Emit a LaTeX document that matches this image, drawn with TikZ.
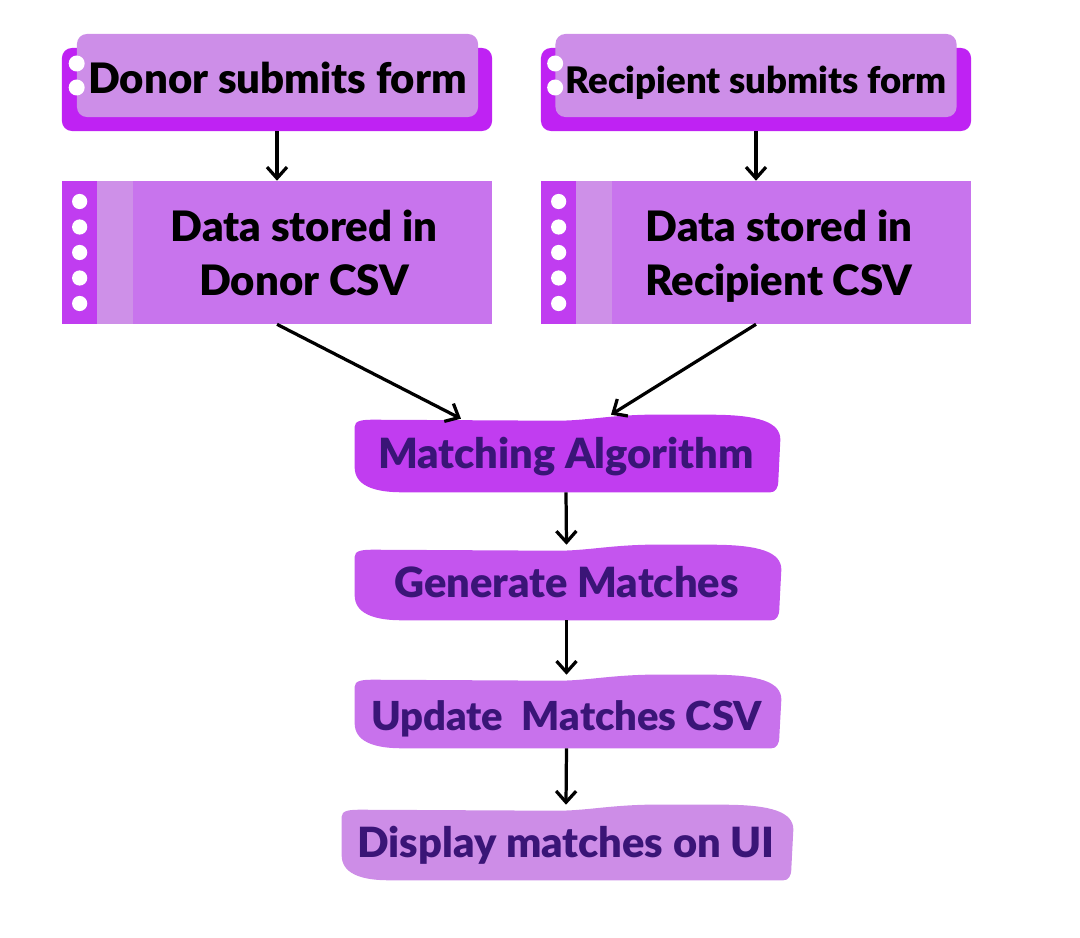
\documentclass[tikz,border=0pt]{standalone}
\usepackage{fontspec}
\setmainfont{Lato}[BoldFont={Lato Black}]
\usepackage{tikz}
\usetikzlibrary{positioning,arrows.meta,calc,backgrounds}
\definecolor{formback}{HTML}{BF22F3}
\definecolor{formfront}{HTML}{CD8EE8}
\definecolor{csvbody}{HTML}{C874ED}
\definecolor{stripdeep}{HTML}{C03DF0}
\definecolor{striplite}{HTML}{CE90E8}
\definecolor{matchfill}{HTML}{C13DF0}
\definecolor{genfill}{HTML}{C455EE}
\definecolor{updfill}{HTML}{C872EC}
\definecolor{dispfill}{HTML}{CD8DE7}
\definecolor{inkpurple}{HTML}{3A1577}

% brush-stroke backdrop behind a flow node
\newcommand{\brush}[2]{%
  \fill[#2] ($(#1.north west)+(3,12)$)
    .. controls ($(#1.north west)+(3,6)$) and ($(#1.north west)+(10,5)$) .. ($(#1.north west)+(22,5)$)
    -- ($(#1.north)+(-10,6)$)
    .. controls ($(#1.north)+(20,6)$) and ($(#1.north)+(40,1)$) .. ($(#1.north)+(80,0)$)
    -- ($(#1.north east)+(-70,0)$)
    .. controls ($(#1.north east)+(-20,0)$) and ($(#1.north east)+(0,8)$) .. ($(#1.north east)+(0,25)$)
    -- ($(#1.south east)+(-2,-12)$)
    .. controls ($(#1.south east)+(-2,-4)$) and ($(#1.south east)+(-5,0)$) .. ($(#1.south east)+(-10,0)$)
    -- ($(#1.south west)+(50,0)$)
    .. controls ($(#1.south west)+(20,0)$) and ($(#1.south west)+(3,-8)$) .. ($(#1.south west)+(3,-25)$)
    -- cycle;}

\begin{document}
\begin{tikzpicture}[
  x=0.025cm, y=-0.025cm,
  back/.style={fill=formback, rounded corners=0.25cm, minimum width=10.75cm,
               minimum height=2.075cm, inner sep=0pt},
  front/.style={fill=formfront, rounded corners=0.25cm, minimum width=10.025cm,
                minimum height=2.075cm, inner sep=0pt, text height=26pt, text depth=0pt,
                font=\fontsize{29.8}{32}\selectfont\bfseries},
  csv/.style={fill=csvbody, minimum width=10.75cm, minimum height=3.575cm, inner sep=0pt},
  csvtext/.style={align=center, font=\fontsize{29.8}{38}\selectfont\bfseries},
  blob/.style={minimum width=10.7cm, minimum height=1.875cm, inner sep=0pt,
               text height=21.3pt, text depth=0pt,
               text=inkpurple, font=\fontsize{29.6}{32}\selectfont\bfseries},
  flow/.style={-{Straight Barb[length=2.8mm,width=5mm]}, line width=2.3pt},
]
\useasboundingbox (0,0) rectangle (1080,938);

% Submission forms
\node[back] (donorbk) at (277,89.5) {};
\node[front] (donor) at (277.5,75.5) {Donor submits form};
\node[back] (recipbk) at (756,89.5) {};
\node[front, font=\fontsize{26}{28}\selectfont\bfseries] (recip) at (756,75.5) {Recipient submits form};
\foreach \dy in {-12,12} {
  \fill[white] ($(donor.west)+(0,\dy)$) circle (0.2cm);
  \fill[white] ($(recip.west)+(0,\dy)$) circle (0.2cm);
}

% CSV storage
\node[csv] (donorcsv) at (277,252.5) {};
\node[csv] (recipcsv) at (756,252.5) {};
\foreach \n in {donorcsv,recipcsv} {
  \fill[stripdeep] (\n.north west) rectangle ($(\n.south west)+(35,0)$);
  \fill[striplite] ($(\n.north west)+(35,0)$) rectangle ($(\n.south west)+(71,0)$);
  \foreach \dy in {-51,-25.5,0,25.5,51}
    \fill[white] ($(\n.west)+(18,\dy)$) circle (0.19cm);
}
\node[csvtext] (donorcsvtxt) at (304,253) {Data stored in\\Donor CSV};
\node[csvtext] (recipcsvtxt) at (779,256) {Data stored in\\Recipient CSV};

% Matching pipeline
\node[blob, minimum height=1.925cm] (match) at (566,453.5) {Matching Algorithm};
\node[blob, minimum width=10.725cm] (gen) at (566.5,582.5) {Generate Matches};
\node[blob, minimum width=10.725cm, minimum height=1.825cm, text height=27pt,
      font=\fontsize{28.4}{32}\selectfont\bfseries] (upd) at (566.5,711.5) {Update\ \ Matches CSV};
\node[blob, minimum width=11.35cm] (disp) at (566,842.5) {Display matches on UI};
\begin{scope}[on background layer]
  \brush{match}{matchfill}
  \brush{gen}{genfill}
  \brush{upd}{updfill}
  \brush{disp}{dispfill}
\end{scope}

% Connectors
\draw[flow] (donorbk.south) -- (donorcsv.north);
\draw[flow] (recipbk.south) -- (recipcsv.north);
\draw[flow] (donorcsv.south) -- ($(match.north)!0.49!(match.north west)+(0,4)$);
\draw[flow] (recipcsv.south) -- ($(match.north)!0.21!(match.north east)$);
\draw[flow] (match.south) -- (gen.north);
\draw[flow] (gen.south) -- (upd.north);
\draw[flow] (upd.south) -- (disp.north);
\end{tikzpicture}
\end{document}
